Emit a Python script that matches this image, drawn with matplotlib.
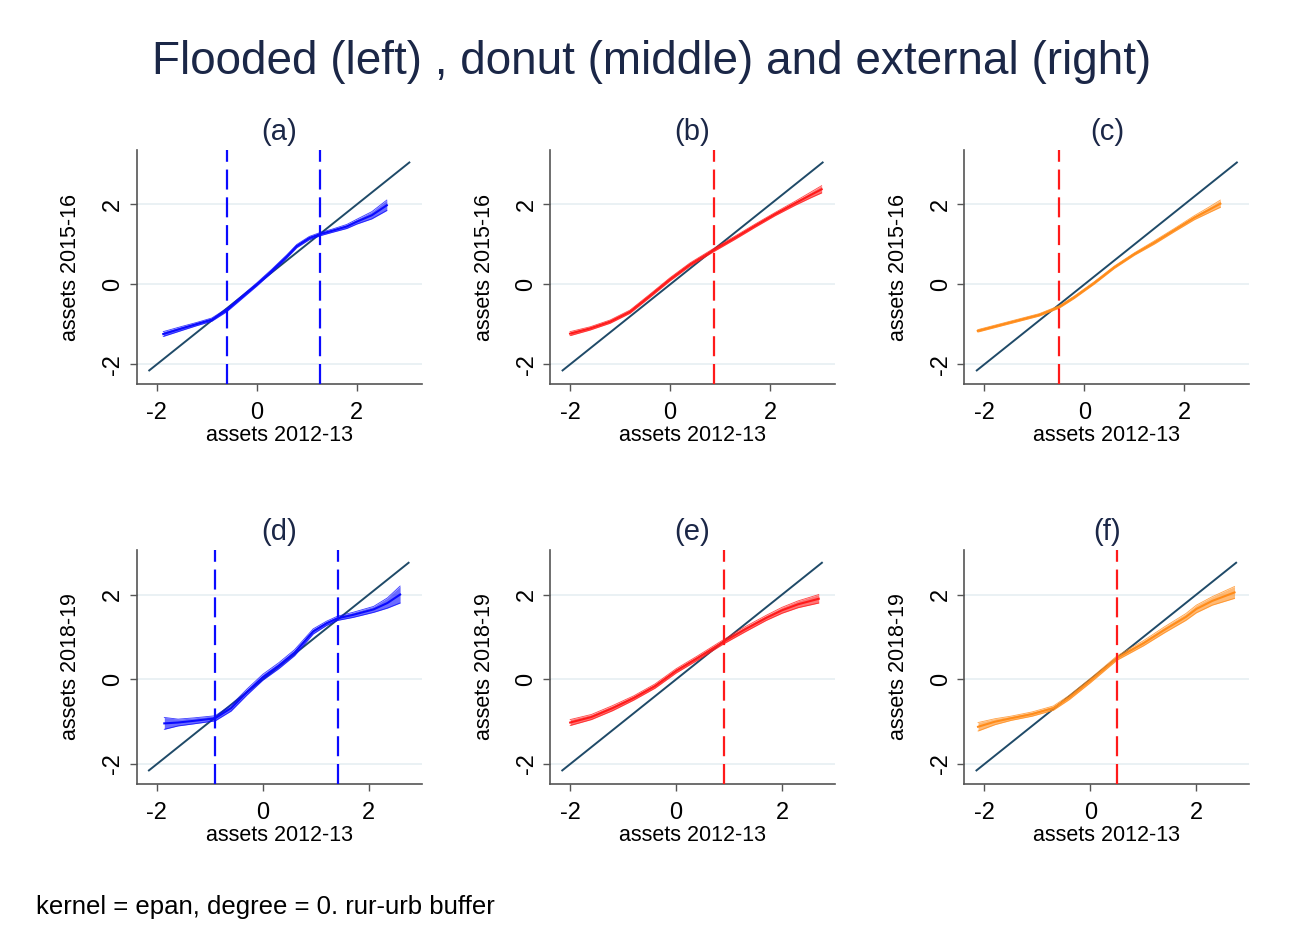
"""Local polynomial fits of assets, flooded / donut / external areas."""

import matplotlib

matplotlib.use("Agg")

import matplotlib.pyplot as plt

plt.rcParams["font.family"] = ["Liberation Sans", "DejaVu Sans"]

TITLE = "Flooded (left) , donut (middle) and external (right)"
NOTE = "kernel = epan, degree = 0. rur-urb buffer"
PANEL_TITLES = ["(a)", "(b)", "(c)", "(d)", "(e)", "(f)"]
X_LABEL = "assets 2012-13"
Y_LABELS = ["assets 2015-16", "assets 2018-19"]
TICKS = [-2, 0, 2]

# 45 degree reference line (min / max of assets 2012-13)
DIAG_TOP = [-2.15, 3.05]
DIAG_BOTTOM = [-2.15, 2.75]

# panel (a) flooded, 2015-16
A_X = [-1.87, -1.5, -1.2, -0.9, -0.6, -0.3, 0.0, 0.3, 0.6, 0.8, 1.05, 1.27, 1.5, 1.8, 2.0, 2.3, 2.6]
A_Y = [-1.24, -1.1, -0.99, -0.88, -0.64, -0.32, 0.0, 0.34, 0.7, 0.96, 1.16, 1.26, 1.34, 1.45, 1.57, 1.73, 1.98]
A_HW = [0.06, 0.05, 0.04, 0.04, 0.04, 0.04, 0.04, 0.04, 0.04, 0.04, 0.04, 0.04, 0.04, 0.05, 0.06, 0.09, 0.13]
A_CUT = [-0.6, 1.27]

# panel (b) donut, 2015-16
B_X = [-2.0, -1.6, -1.2, -0.8, -0.4, 0.0, 0.4, 0.87, 1.3, 1.7, 2.1, 2.5, 2.8, 3.03]
B_Y = [-1.23, -1.1, -0.93, -0.68, -0.28, 0.13, 0.5, 0.86, 1.17, 1.47, 1.76, 2.03, 2.23, 2.38]
B_HW = [0.05, 0.04, 0.04, 0.04, 0.04, 0.04, 0.04, 0.04, 0.04, 0.04, 0.04, 0.05, 0.07, 0.09]
B_CUT = [0.87]

# panel (c) external, 2015-16
C_X = [-2.13, -1.7, -1.3, -0.9, -0.5, -0.2, 0.2, 0.6, 1.0, 1.4, 1.8, 2.2, 2.5, 2.72]
C_Y = [-1.16, -1.02, -0.89, -0.76, -0.56, -0.32, 0.04, 0.43, 0.76, 1.05, 1.36, 1.67, 1.87, 2.02]
C_HW = [0.03, 0.03, 0.03, 0.03, 0.03, 0.03, 0.03, 0.03, 0.03, 0.04, 0.04, 0.05, 0.07, 0.09]
C_CUT = [-0.5]

# panel (d) flooded, 2018-19
D_X = [-1.86, -1.6, -1.3, -0.9, -0.6, -0.3, 0.0, 0.3, 0.6, 0.95, 1.2, 1.41, 1.7, 2.09, 2.35, 2.59]
D_Y = [-1.04, -1.02, -0.98, -0.92, -0.68, -0.3, 0.05, 0.32, 0.63, 1.13, 1.32, 1.44, 1.52, 1.65, 1.8, 2.0]
D_HW = [0.14, 0.08, 0.07, 0.06, 0.07, 0.07, 0.07, 0.07, 0.07, 0.06, 0.05, 0.05, 0.06, 0.07, 0.12, 0.2]
D_CUT = [-0.9, 1.41]

# panel (e) donut, 2018-19
E_X = [-2.0, -1.6, -1.2, -0.8, -0.4, 0.0, 0.4, 0.9, 1.3, 1.7, 2.0, 2.3, 2.69]
E_Y = [-1.02, -0.89, -0.68, -0.44, -0.16, 0.2, 0.5, 0.89, 1.18, 1.45, 1.63, 1.77, 1.9]
E_HW = [0.07, 0.06, 0.06, 0.05, 0.05, 0.05, 0.05, 0.05, 0.06, 0.06, 0.07, 0.08, 0.1]
E_CUT = [0.9]

# panel (f) external, 2018-19
F_X = [-2.12, -1.8, -1.5, -1.1, -0.7, -0.4, 0.0, 0.5, 1.0, 1.4, 1.8, 2.0, 2.3, 2.72]
F_Y = [-1.12, -1.0, -0.92, -0.82, -0.68, -0.43, -0.03, 0.5, 0.85, 1.17, 1.47, 1.66, 1.85, 2.05]
F_HW = [0.1, 0.07, 0.05, 0.05, 0.05, 0.05, 0.05, 0.05, 0.06, 0.07, 0.08, 0.09, 0.1, 0.14]
F_CUT = [0.5]

BLUE = "#0a0aff"
RED = "#ff1a1a"
ORANGE = "#ff8c1a"
NAVY = "#1f4a68"
GRID = "#e6eff2"
AXIS = "#555555"
TITLE_COLOR = "#1b2747"


def draw_panel(ax, x, y, hw, cuts, color, cut_color, diag, title, ylabel, xlim, ylim):
    lo = [a - b for a, b in zip(y, hw)]
    hi = [a + b for a, b in zip(y, hw)]
    for t in TICKS:
        ax.axhline(t, color=GRID, linewidth=1.2, zorder=0)
    ax.plot(diag, diag, color=NAVY, linewidth=1.4, zorder=2)
    ax.fill_between(x, lo, hi, color=color, alpha=0.6, linewidth=0, zorder=3)
    ax.plot(x, lo, color=color, linewidth=0.6, alpha=0.8, zorder=3)
    ax.plot(x, hi, color=color, linewidth=0.6, alpha=0.8, zorder=3)
    ax.plot(x, y, color=color, linewidth=1.5, zorder=4)
    for c in cuts:
        line = ax.axvline(c, color=cut_color, linewidth=1.6, zorder=5)
        line.set_dashes([9, 3.5])
    ax.set_xlim(*xlim)
    ax.set_ylim(*ylim)
    ax.set_xticks(TICKS)
    ax.set_yticks(TICKS)
    ax.set_xticklabels([str(t) for t in TICKS])
    ax.set_yticklabels([str(t) for t in TICKS], rotation=90, va="center")
    ax.tick_params(axis="both", length=5, width=1, color=AXIS, labelsize=17)
    ax.tick_params(axis="x", pad=8)
    ax.tick_params(axis="y", pad=4)
    for side in ("top", "right"):
        ax.spines[side].set_visible(False)
    for side in ("left", "bottom"):
        ax.spines[side].set_color(AXIS)
        ax.spines[side].set_linewidth(1.2)
    ax.set_xlabel(X_LABEL, fontsize=15.5, labelpad=1)
    ax.set_ylabel(ylabel, fontsize=15.5, labelpad=15)
    ax.set_title(title, fontsize=21, color=TITLE_COLOR, pad=7)


def main() -> None:
    fig = plt.figure(figsize=(12.9, 9.38), dpi=100)
    lefts = [0.106, 0.4264, 0.7475]
    width = 0.221
    top_row = (0.5906, 0.840 - 0.5906)
    bottom_row = (0.1642, 0.4136 - 0.1642)

    panels = [
        (A_X, A_Y, A_HW, A_CUT, BLUE, BLUE),
        (B_X, B_Y, B_HW, B_CUT, RED, RED),
        (C_X, C_Y, C_HW, C_CUT, ORANGE, RED),
        (D_X, D_Y, D_HW, D_CUT, BLUE, BLUE),
        (E_X, E_Y, E_HW, E_CUT, RED, RED),
        (F_X, F_Y, F_HW, F_CUT, ORANGE, RED),
    ]
    for i, (x, y, hw, cuts, color, cut_color) in enumerate(panels):
        row, col = divmod(i, 3)
        bottom, height = top_row if row == 0 else bottom_row
        ax = fig.add_axes([lefts[col], bottom, width, height])
        if row == 0:
            draw_panel(ax, x, y, hw, cuts, color, cut_color, DIAG_TOP, PANEL_TITLES[i],
                       Y_LABELS[0], (-2.4, 3.3), (-2.49, 3.36))
        else:
            draw_panel(ax, x, y, hw, cuts, color, cut_color, DIAG_BOTTOM, PANEL_TITLES[i],
                       Y_LABELS[1], (-2.38, 3.0), (-2.47, 3.05))

    fig.text(0.505, 0.934, TITLE, ha="center", va="center", fontsize=33, color=TITLE_COLOR)
    fig.text(0.028, 0.033, NOTE, ha="left", va="center", fontsize=18.5, color="black")
    fig.savefig("out.png", dpi=100, facecolor="white")
    plt.close(fig)


if __name__ == "__main__":
    main()
